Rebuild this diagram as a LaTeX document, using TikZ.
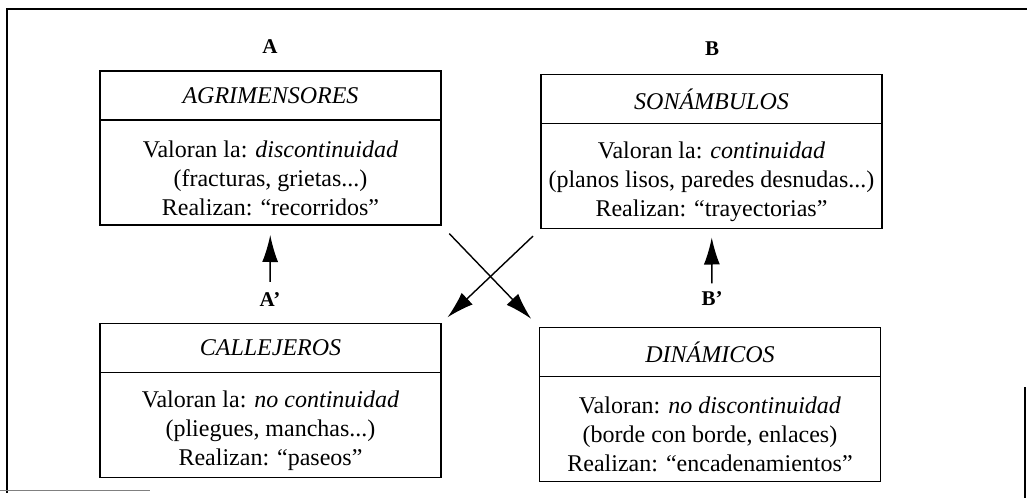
\documentclass[tikz,border=0pt]{standalone}
\usepackage{fontspec}
\setmainfont{Liberation Serif}
\usetikzlibrary{arrows.meta,positioning}
\tikzset{line/.style = {draw, line width=1.4pt, -{Latex[length=27pt,width=16pt]}}}

\begin{document}
\begin{tikzpicture}[x=1pt, y=-1pt,
   header/.style={rectangle, draw, line width=1.4pt, outer sep=0pt, minimum width=341pt,
      minimum height=49pt, font=\fontsize{24}{29}\selectfont\itshape},
   content/.style={rectangle, draw, line width=1.4pt, outer sep=0pt, minimum width=341pt,
      minimum height=105pt, align=center, font=\fontsize{24}{29}\selectfont},
   tag/.style={inner sep=0pt, font=\fontsize{21}{24}\selectfont\bfseries}]
\useasboundingbox (0,0) rectangle (1027,498);

% frame
\draw[line width=1.8pt] (6,9) -- (1027,9);
\draw[line width=1.8pt] (7,9) -- (7,493);
\draw[line width=1pt, gray] (0,490) -- (150,490);
\draw[line width=1.6pt] (1025,387) -- (1025,498);

\node[tag] (a) at (270,47) {A};
\node[header] (agri) at (270.5,95.5) {AGRIMENSORES};
\node[content, below=0pt of agri] (agritxt) {\rule{0pt}{28pt}Valoran la: \textit{discontinuidad}\\
   (fracturas, grietas...)\\Realizan: ``recorridos''};

\node[tag] (b) at (712,49) {B};
\node[header] (sona) at (711.5,99) {SONÁMBULOS};
\node[content, below=0pt of sona] (sonatxt) {\rule{0pt}{28pt}Valoran la: \textit{continuidad}\\
   (planos lisos, paredes desnudas...)\\Realizan: ``trayectorias''};

\node[tag] (a2) at (270,300) {A'};
\node[header] (calle) at (270.5,348) {CALLEJEROS};
\node[content, below=0pt of calle] (calletxt) {\rule{0pt}{28pt}Valoran la: \textit{no continuidad}\\
   (pliegues, manchas...)\\Realizan: ``paseos''};

\node[tag] (b2) at (712,298.5) {B'};
\node[header] (dina) at (710,352) {DINÁMICOS};
\node[content, below=0pt of dina] (dinatxt) {\rule{0pt}{28pt}Valoran: \textit{no discontinuidad}\\
   (borde con borde, enlaces)\\Realizan: ``encadenamientos''};

\path
	(a2) edge[line, shorten <=11pt, shorten >=10pt] (agritxt)
	(b2) edge[line, shorten <=8pt, shorten >=9pt] (sonatxt)
	(agritxt.south east) edge[line, shorten <=12pt, shorten >=12pt] (dina.north west)
	(sonatxt.south west) edge[line, shorten <=11pt, shorten >=9pt] (calle.north east)
;

\end{tikzpicture}
\end{document}
